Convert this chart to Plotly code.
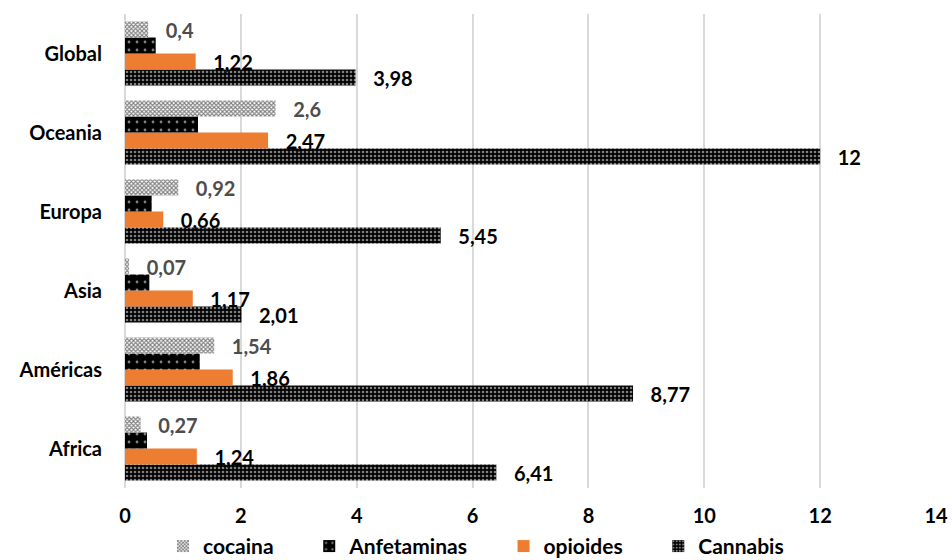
import plotly.graph_objects as go

categories = ["Africa", "Américas", "Asia", "Europa", "Oceania", "Global"]
cocaina = [0.27, 1.54, 0.07, 0.92, 2.6, 0.4]
anfetaminas = [0.38, 1.29, 0.42, 0.46, 1.26, 0.53]
opioides = [1.24, 1.86, 1.17, 0.66, 2.47, 1.22]
cannabis = [6.41, 8.77, 2.01, 5.45, 12, 3.98]
x_ticks = [0, 2, 4, 6, 8, 10, 12, 14]

FONT = "Lato"
PAD = "\u00a0\u00a0\u00a0"
LEG_PAD = "\u00a0" * 6

def fmt(v):
    return PAD + ("%g" % v).replace(".", ",")

fig = go.Figure()

series = [
    ("Cannabis", cannabis,
     dict(color="black", pattern=dict(shape=".", fgcolor="white", bgcolor="black", size=4, solidity=0.35)),
     "black", True, ""),
    ("opioides", opioides, dict(color="#ED7D31"), "black", True, LEG_PAD),
    ("Anfetaminas", anfetaminas,
     dict(color="black", pattern=dict(shape=".", fgcolor="white", bgcolor="black", size=8, solidity=0.1)),
     "black", False, LEG_PAD),
    ("cocaina", cocaina,
     dict(color="white", pattern=dict(shape="x", fgcolor="black", bgcolor="white", size=3, solidity=0.6)),
     "#4D4D4D", True, LEG_PAD),
]

for name, vals, marker, tcolor, show_labels, pad in series:
    fig.add_trace(go.Bar(
        y=categories, x=vals, name=name + pad, orientation="h",
        marker=dict(line=dict(width=0), **marker),
        text=[fmt(v) for v in vals] if show_labels else None,
        textposition="outside" if show_labels else "none",
        constraintext="none",
        textfont=dict(family=FONT, size=20, color=tcolor, weight="bold"),
        cliponaxis=False,
    ))

fig.update_layout(
    width=952, height=560,
    margin=dict(l=125, r=16, t=14, b=72, autoexpand=False),
    barmode="group", bargap=0.19, bargroupgap=0,
    plot_bgcolor="white", paper_bgcolor="white",
    font=dict(family=FONT, size=20, color="black", weight="bold"),
    legend=dict(orientation="h", traceorder="reversed", xref="container", x=0.5, xanchor="center",
                yref="paper", y=-0.08, yanchor="top", bgcolor="rgba(0,0,0,0)",
                font=dict(size=21, family=FONT, weight="bold"),
                itemwidth=30, tracegroupgap=0),
    xaxis=dict(range=[0, 14], tickvals=x_ticks, showgrid=True, gridcolor="#D9D9D9",
               gridwidth=1.5, zeroline=True, zerolinecolor="#D9D9D9", zerolinewidth=1.5, showline=False,
               tickfont=dict(family=FONT, size=20, weight="bold"), ticks="", ticklabelstandoff=14,
               automargin=False),
    yaxis=dict(showgrid=False, showline=False, ticks="", ticklabelstandoff=22,
               tickfont=dict(family=FONT, size=20, weight="bold"), automargin=False),
)

fig.write_html("out.html")
